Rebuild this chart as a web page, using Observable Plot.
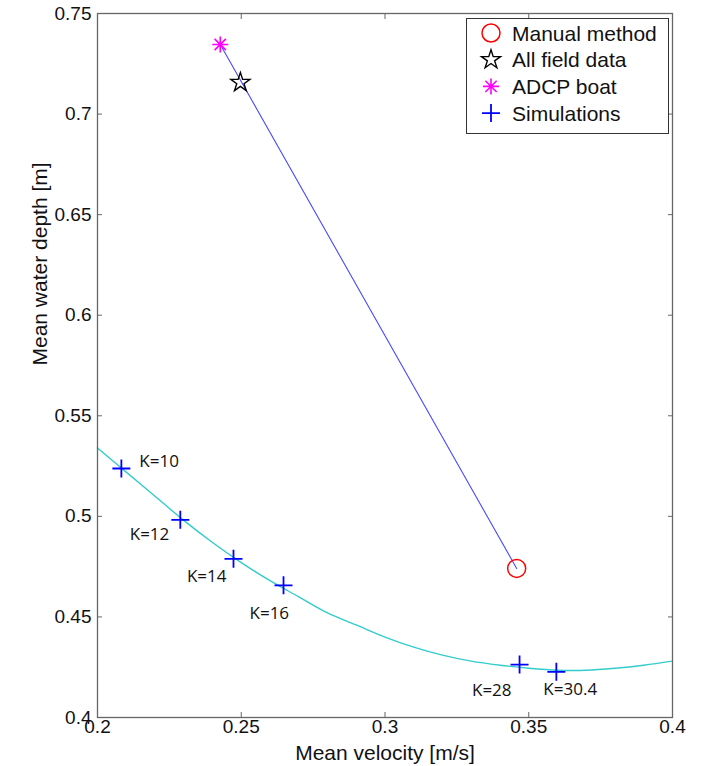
<!DOCTYPE html>
<html>
<head>
<meta charset="utf-8">
<script src="https://cdn.jsdelivr.net/npm/d3@7"></script>
<script src="https://cdn.jsdelivr.net/npm/@observablehq/plot@0.6"></script>
<style>
  html, body { margin: 0; padding: 0; background: #fff; }
  #figure { position: relative; width: 708px; height: 766px; }
  #legend { position: absolute; left: 466px; top: 18px; }
</style>
</head>
<body>
<div id="figure"></div>
<script>
// Measured means (velocity in m/s, depth in m)
const fieldNames = ["Manual method", "All field data", "ADCP boat"];
const fieldVelocity = [0.3458, 0.2497, 0.2427];
const fieldDepth = [0.4741, 0.7157, 0.7346];

// Simulation runs for different roughness values K
const simK = [10, 12, 14, 16, 28, 30.4];
const simVelocity = [0.2083, 0.2288, 0.2473, 0.2647, 0.3468, 0.3596];
const simDepth = [0.5238, 0.4983, 0.4789, 0.4657, 0.4263, 0.4227];

// Trend curve through the simulation runs
const trendVelocity = [0.20, 0.21, 0.22, 0.23, 0.24, 0.25, 0.26, 0.27, 0.28, 0.29, 0.30,
                       0.31, 0.32, 0.33, 0.34, 0.35, 0.36, 0.37, 0.38, 0.39, 0.40];
const trendDepth = [0.534, 0.522, 0.510, 0.498, 0.487, 0.477, 0.468, 0.460, 0.452, 0.446, 0.440,
                    0.435, 0.431, 0.428, 0.426, 0.4245, 0.4235, 0.4235, 0.4245, 0.426, 0.428];

// Axis ticks
const xTicks = [0.2, 0.25, 0.3, 0.35, 0.4];
const yTicks = [0.4, 0.45, 0.5, 0.55, 0.6, 0.65, 0.7, 0.75];

const field = fieldNames.map((name, i) => ({name, velocity: fieldVelocity[i], depth: fieldDepth[i]}));
const sims = simK.map((k, i) => ({k, velocity: simVelocity[i], depth: simDepth[i]}));
const trend = trendVelocity.map((v, i) => ({velocity: v, depth: trendDepth[i]}));
const byName = name => field.filter(d => d.name === name);
const link = [byName("ADCP boat")[0], byName("Manual method")[0]];

// Marker shapes; radius is derived from the symbol area Plot passes in
const radiusOf = size => Math.sqrt(size / Math.PI);
const plusSymbol = {
  draw(ctx, size) {
    const r = radiusOf(size);
    ctx.moveTo(-r, 0); ctx.lineTo(r, 0);
    ctx.moveTo(0, -r); ctx.lineTo(0, r);
  }
};
const asteriskSymbol = {
  draw(ctx, size) {
    const r = radiusOf(size);
    for (let i = 0; i < 4; i++) {
      const a = i * Math.PI / 4;
      ctx.moveTo(r * Math.cos(a), r * Math.sin(a));
      ctx.lineTo(-r * Math.cos(a), -r * Math.sin(a));
    }
  }
};
const starSymbol = {
  draw(ctx, size) {
    const R = radiusOf(size), ri = R * 0.382;
    for (let i = 0; i < 10; i++) {
      const a = -Math.PI / 2 + i * Math.PI / 5;
      const rr = i % 2 ? ri : R;
      const px = rr * Math.cos(a), py = rr * Math.sin(a);
      if (i === 0) ctx.moveTo(px, py); else ctx.lineTo(px, py);
    }
    ctx.closePath();
  }
};

const markerStyles = {
  "Manual method": {symbol: "circle", stroke: "#ff0000", r: 9, strokeWidth: 1.5},
  "All field data": {symbol: starSymbol, stroke: "#000000", r: 10, strokeWidth: 1.4},
  "ADCP boat": {symbol: asteriskSymbol, stroke: "#ff00ff", r: 8, strokeWidth: 1.6},
  "Simulations": {symbol: plusSymbol, stroke: "#0000ff", r: 9, strokeWidth: 1.8}
};

// Where each K annotation sits relative to its simulation point
const kLabelPlacement = [
  {k: 10, dx: 18, dy: -7, anchor: "start"},
  {k: 12, dx: -11, dy: 15, anchor: "end"},
  {k: 14, dx: -7, dy: 18, anchor: "end"},
  {k: 16, dx: -34, dy: 28, anchor: "start"},
  {k: 28, dx: -8, dy: 26, anchor: "end"},
  {k: 30.4, dx: -13, dy: 18, anchor: "start"}
];

const axisColor = "#666";
const fmt = d => `${d}`;

const chart = Plot.plot({
  width: 708,
  height: 766,
  marginTop: 13,
  marginRight: 36,
  marginBottom: 49,
  marginLeft: 97,
  style: {fontFamily: "'Liberation Sans', Arial, sans-serif", fontSize: "19px", color: "#111", background: "#fff"},
  x: {domain: [0.2, 0.4], label: null},
  y: {domain: [0.4, 0.75], label: null},
  marks: [
    Plot.line(trend, {x: "velocity", y: "depth", stroke: "#33cccc", strokeWidth: 1.4, curve: "catmull-rom"}),
    Plot.line(link, {x: "velocity", y: "depth", stroke: "#4a4aff", strokeWidth: 1.1}),
    ...fieldNames.map(name => {
      const s = markerStyles[name];
      return Plot.dot(byName(name), {x: "velocity", y: "depth", symbol: s.symbol, r: s.r, stroke: s.stroke, strokeWidth: s.strokeWidth, fill: "none"});
    }),
    Plot.dot(sims, {x: "velocity", y: "depth", symbol: plusSymbol, r: 9, stroke: "#0000ff", strokeWidth: 1.8, fill: "none"}),
    ...kLabelPlacement.map(p => Plot.text(sims.filter(d => d.k === p.k), {
      x: "velocity", y: "depth", text: d => `K=${d.k}`,
      dx: p.dx, dy: p.dy, textAnchor: p.anchor,
      fontFamily: "'Open Sans', sans-serif", fontSize: 17, fill: "#111"
    })),
    Plot.frame({stroke: axisColor, strokeWidth: 1.3}),
    // inward ticks on all four sides
    Plot.axisX({ticks: xTicks, anchor: "bottom", tickSize: -5, text: null, stroke: axisColor, label: null}),
    Plot.axisX({ticks: xTicks, anchor: "top", tickSize: -5, text: null, stroke: axisColor, label: null}),
    Plot.axisY({ticks: yTicks, anchor: "left", tickSize: -5, text: null, stroke: axisColor, label: null}),
    Plot.axisY({ticks: yTicks, anchor: "right", tickSize: -5, text: null, stroke: axisColor, label: null}),
    // tick labels
    Plot.axisX({ticks: xTicks, anchor: "bottom", tickSize: 0, tickPadding: 2, tickFormat: fmt, label: null}),
    Plot.axisY({ticks: yTicks, anchor: "left", tickSize: 0, tickPadding: 6, tickFormat: fmt, label: null}),
    // axis titles
    Plot.text(["Mean velocity [m/s]"], {frameAnchor: "bottom", dy: 36, text: d => d, fontSize: 21, fill: "#111", lineAnchor: "middle"}),
    Plot.text(["Mean water depth [m]"], {frameAnchor: "left", dx: -57, rotate: -90, text: d => d, fontSize: 21, fill: "#111", lineAnchor: "middle"})
  ]
});

const figure = document.getElementById("figure");
figure.appendChild(chart);

// Legend box inside the upper-right corner of the axes
const legendEntries = ["Manual method", "All field data", "ADCP boat", "Simulations"];
const legend = d3.create("svg")
  .attr("id", "legend")
  .attr("width", 203)
  .attr("height", 116)
  .style("font-family", "'Liberation Sans', Arial, sans-serif");
legend.append("rect")
  .attr("x", 0.5).attr("y", 0.5).attr("width", 202).attr("height", 115)
  .attr("fill", "#fff").attr("stroke", "#333").attr("stroke-width", 1);
legendEntries.forEach((name, i) => {
  const s = markerStyles[name];
  const cy = 15 + i * 26.7;
  const type = s.symbol === "circle" ? d3.symbolCircle : s.symbol;
  legend.append("path")
    .attr("transform", `translate(25,${cy})`)
    .attr("d", d3.symbol(type, Math.PI * s.r * s.r)())
    .attr("fill", "none")
    .attr("stroke", s.stroke)
    .attr("stroke-width", s.strokeWidth);
  legend.append("text")
    .attr("x", 46).attr("y", cy)
    .attr("dy", "0.36em")
    .attr("font-size", 21)
    .attr("fill", "#111")
    .text(name);
});
figure.appendChild(legend.node());
</script>
</body>
</html>
